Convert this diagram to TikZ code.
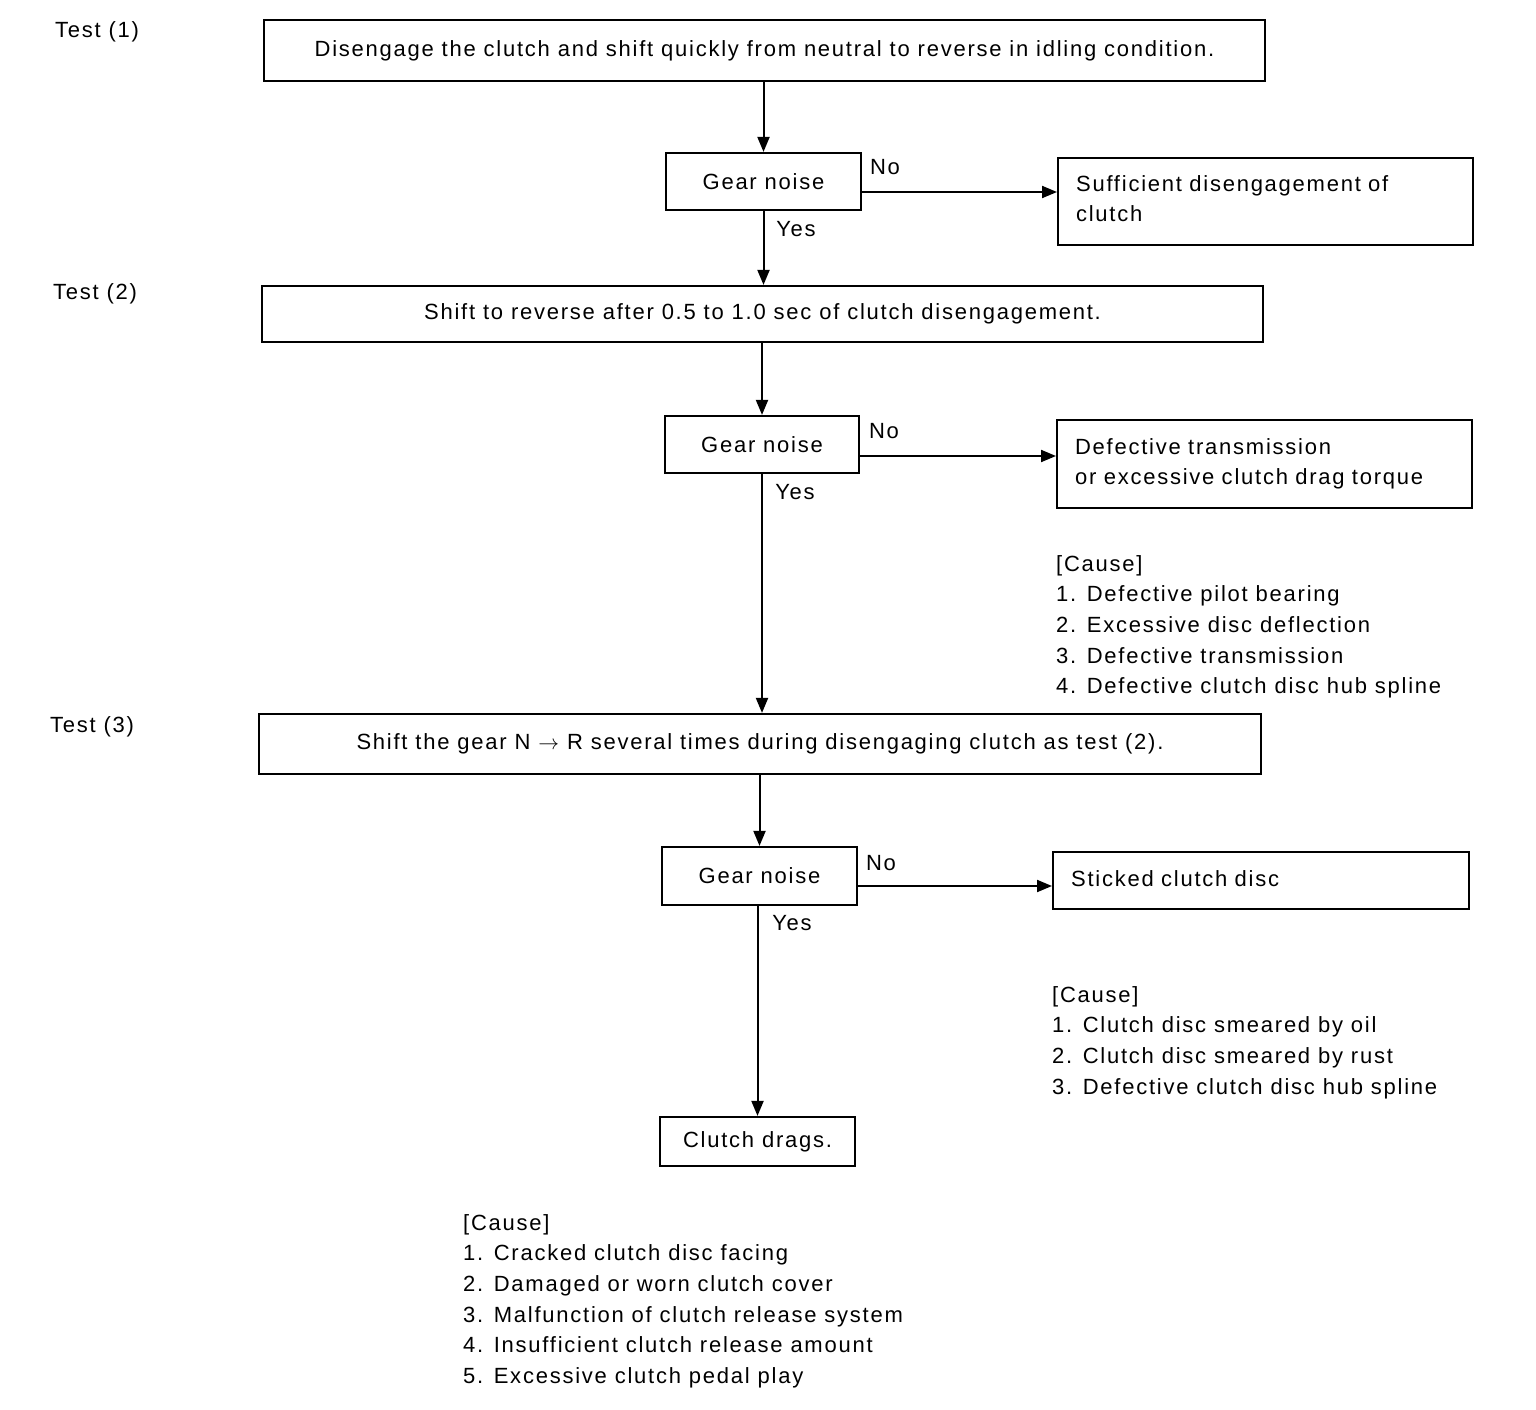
\documentclass[tikz,border=0pt]{standalone}
\usepackage{fontspec}
\setmainfont[LetterSpace=8]{Liberation Sans}
\usetikzlibrary{arrows.meta}
\begin{document}
\begin{tikzpicture}[x=1pt,y=-1pt,
  every node/.style={font=\fontsize{22}{30.7}\selectfont},
  box/.style={draw,line width=2.2pt,inner sep=0pt,align=center},
  rbox/.style={draw,line width=2.2pt,inner ysep=0pt,inner xsep=18pt,align=left,anchor=north west,font=\fontsize{22}{30}\selectfont},
  lbl/.style={inner sep=0pt},
  cause/.style={inner sep=0pt,anchor=north west,align=left},
  conn/.style={line width=2pt,-{Triangle[length=15pt,width=12pt]}}]
\useasboundingbox (0,0) rectangle (1536,1410);
% tests
\node[lbl] (t1) at (97,32) {Test (1)};
\node[lbl] (t2) at (95,294) {Test (2)};
\node[lbl] (t3) at (92,727) {Test (3)};
% main boxes
\node[box,minimum width=1001pt,minimum height=61pt] (b1) at (764.5,50.5) {Disengage the clutch and shift quickly from neutral to reverse in idling condition.};
\node[box,minimum width=195pt,minimum height=57pt] (g1) at (763.5,181.5) {Gear noise};
\node[rbox,text width=379pt,text height=33pt,text depth=54pt] (s1) at (1057,157) {Sufficient disengagement of\\clutch};
\node[box,minimum width=1001pt,minimum height=56pt] (b2) at (762.5,314) {Shift to reverse after 0.5 to 1.0 sec of clutch disengagement.};
\node[box,minimum width=194pt,minimum height=57pt] (g2) at (762,444.5) {Gear noise};
\node[rbox,text width=379pt,text height=34pt,text depth=54pt] (s2) at (1056,419) {Defective transmission\\or excessive clutch drag torque};
\node[box,minimum width=1002pt,minimum height=60pt] (b3) at (760,744) {Shift the gear N $\rightarrow$ R several times during disengaging clutch as test (2).};
\node[box,minimum width=195pt,minimum height=58pt] (g3) at (759.5,876) {Gear noise};
\node[rbox,text width=380pt,text height=34pt,text depth=23pt] (s3) at (1052,851) {Sticked clutch disc};
\node[box,minimum width=195pt,minimum height=49pt] (cd) at (757.5,1141.5) {Clutch drags.};
% labels
\node[lbl] (n1) at (885,167) {No};
\node[lbl] (y1) at (796,229) {Yes};
\node[lbl] (n2) at (884,431) {No};
\node[lbl] (y2) at (795,492) {Yes};
\node[lbl] (n3) at (881,863) {No};
\node[lbl] (y3) at (792,923) {Yes};
% causes
\node[cause] (c1) at (1056,555) {[Cause]\\1. Defective pilot bearing\\2. Excessive disc deflection\\3. Defective transmission\\4. Defective clutch disc hub spline};
\node[cause] (c2) at (1052,986) {[Cause]\\1. Clutch disc smeared by oil\\2. Clutch disc smeared by rust\\3. Defective clutch disc hub spline};
\node[cause] (c3) at (463,1214) {[Cause]\\1. Cracked clutch disc facing\\2. Damaged or worn clutch cover\\3. Malfunction of clutch release system\\4. Insufficient clutch release amount\\5. Excessive clutch pedal play};
% connectors
\draw[conn] (b1.south -| g1.north) -- (g1.north);
\draw[conn] ([yshift=-10.5pt]g1.east) -- ([yshift=-10.5pt]g1.east -| s1.west);
\draw[conn] (g1.south) -- (g1.south |- b2.north);
\draw[conn] (b2.south -| g2.north) -- (g2.north);
\draw[conn] ([yshift=-11.5pt]g2.east) -- ([yshift=-11.5pt]g2.east -| s2.west);
\draw[conn] (g2.south) -- (g2.south |- b3.north);
\draw[conn] (b3.south -| g3.north) -- (g3.north);
\draw[conn] ([yshift=-10pt]g3.east) -- ([yshift=-10pt]g3.east -| s3.west);
\draw[conn] (g3.south -| cd.north) -- (cd.north);
\end{tikzpicture}
\end{document}
